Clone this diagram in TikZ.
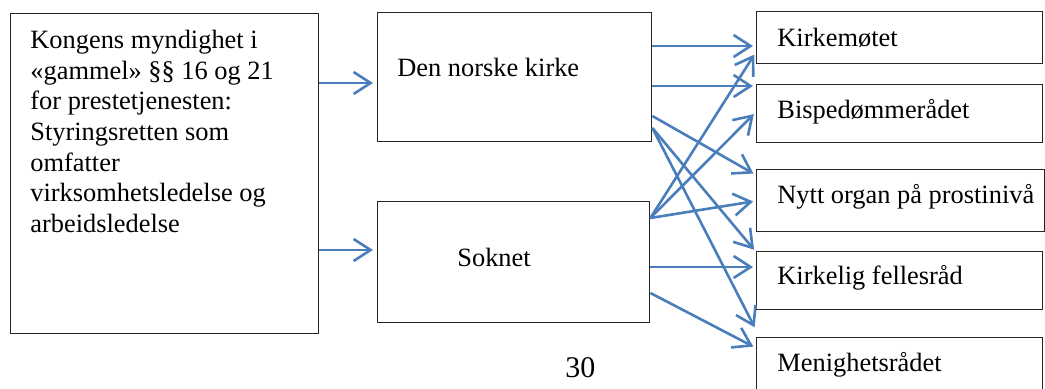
\documentclass[tikz,border=0pt]{standalone}
\usepackage{fontspec}
\setmainfont{Liberation Serif}
\usetikzlibrary{arrows.meta}
\definecolor{arrblue}{HTML}{4A7EBB}
\definecolor{boxline}{HTML}{262626}
\begin{document}
\begin{tikzpicture}[x=0.5pt,y=-0.5pt,
  box/.style={draw=boxline, line width=0.7pt, inner sep=0pt, anchor=north west},
  txt/.style={inner sep=0pt, font=\fontsize{13.2}{15.3}\selectfont},
  con/.style={draw=arrblue, line width=1.3pt, shorten >=1.5pt,
    -{Straight Barb[length=8.5pt,width=11pt,line width=1.3pt]}}]
\useasboundingbox (0,0) rectangle (1045,389);
% boxes
\node[box, minimum width=154.25pt, minimum height=160pt] (kong) at (9.5,13) {};
\node[box, minimum width=137pt, minimum height=64.5pt] (dnk) at (377,12) {};
\node[box, minimum width=136pt, minimum height=60.5pt] (sok) at (377,201) {};
\node[box, minimum width=143pt, minimum height=26pt] (kirk) at (756,11) {};
\node[box, minimum width=143pt, minimum height=29pt] (bisp) at (756,84) {};
\node[box, minimum width=144pt, minimum height=31pt] (nytt) at (756,169) {};
\node[box, minimum width=143pt, minimum height=29pt] (kfr) at (756,251) {};
\node[box, minimum width=143pt, minimum height=31.5pt] (men) at (756,337) {};
% texts
\node[txt, anchor=north west, align=left] (kongt) at (30,30) {Kongens myndighet i\\«gammel» §§ 16 og 21\\for prestetjenesten:\\Styringsretten som\\omfatter\\virksomhetsledelse og\\arbeidsledelse};
\node[txt, anchor=base west] (dnkt) at (397,77) {Den norske kirke};
\node[txt, anchor=base west] (sokt) at (457,267) {Soknet};
\node[txt, anchor=base west] (kirkt) at (777,47) {Kirkemøtet};
\node[txt, anchor=base west] (bispt) at (777,119) {Bispedømmerådet};
\node[txt, anchor=base west] (nyttt) at (777,204) {Nytt organ på prostinivå};
\node[txt, anchor=base west] (kfrt) at (777,285) {Kirkelig fellesråd};
\node[txt, anchor=base west] (ment) at (777,372) {Menighetsrådet};
\node[inner sep=0pt, anchor=base west, font=\fontsize{15}{18}\selectfont] (page) at (565,378) {30};
% connectors
\draw[con, shorten >=2pt] (kong.east |- 0,83) -- (dnk.west |- 0,83);
\draw[con, shorten >=2pt] (kong.east |- 0,250) -- (sok.west |- 0,250);
\draw[con] (dnk.east |- 0,46) -- (kirk.west |- 0,46);
\draw[con] (dnk.east |- 0,86) -- (bisp.west |- 0,86);
\draw[con] (dnk.east |- 0,116) -- (nytt.west |- 0,175);
\draw[con] (dnk.east |- 0,128) -- (kfr.west |- 0,252);
\draw[con] (dnk.east |- 0,128) -- (men.west |- 0,330);
\draw[con] (sok.east |- 0,218) -- (kirk.west |- 0,52);
\draw[con] (sok.east |- 0,218) -- (bisp.west |- 0,112);
\draw[con] (sok.east |- 0,218) -- (nytt.west |- 0,201);
\draw[con] (sok.east |- 0,267) -- (kfr.west |- 0,267);
\draw[con] (sok.east |- 0,293) -- (men.west |- 0,348);
\end{tikzpicture}
\end{document}
